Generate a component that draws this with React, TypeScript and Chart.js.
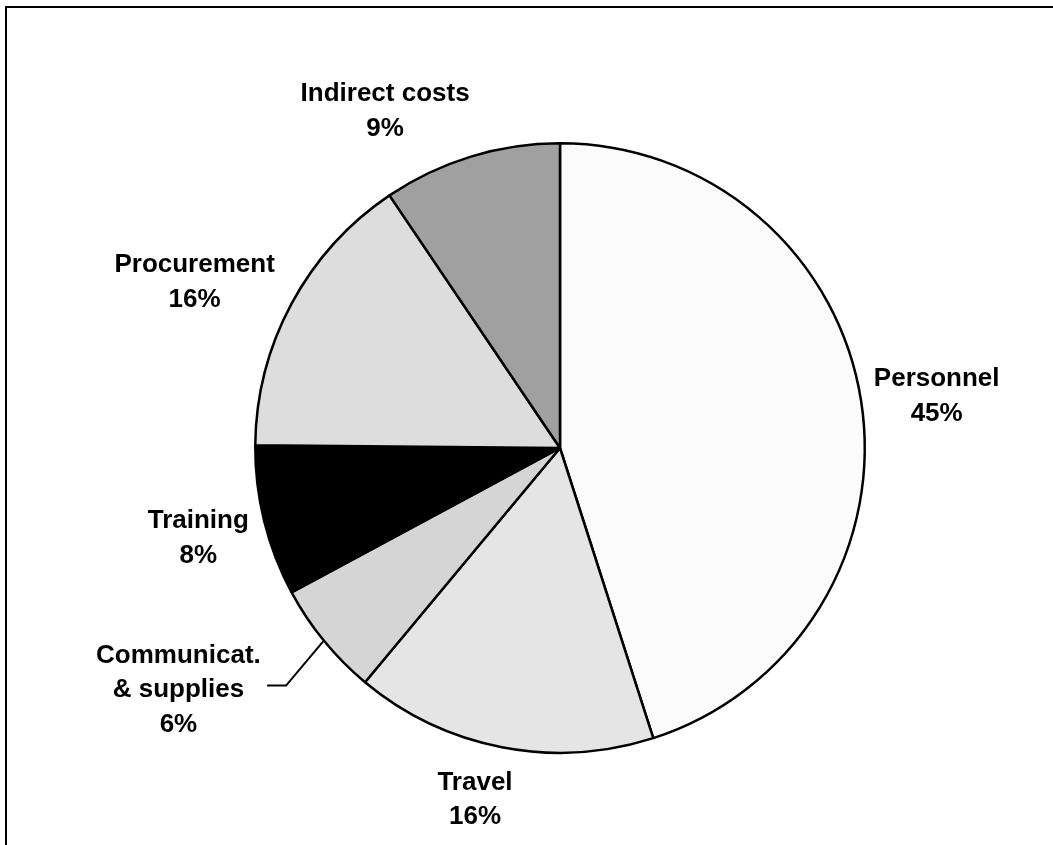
import React, { useEffect, useRef } from "react";
import { Chart, registerables } from "chart.js";

Chart.register(...registerables);

// Data (slice shares, clockwise from 12 o'clock)
const categories: string[] = ["Personnel", "Travel", "Communicat. & supplies", "Training", "Procurement", "Indirect costs"];
const shares: number[] = [45.05, 16.0, 6.1, 8.0, 15.4, 9.45];
const labelLines: string[][] = [
  ["Personnel", "45%"],
  ["Travel", "16%"],
  ["Communicat.", "& supplies", "6%"],
  ["Training", "8%"],
  ["Procurement", "16%"],
  ["Indirect costs", "9%"],
];

// Styling / layout (kept apart from data)
const sliceColors = ["#fbfbfb", "#e5e5e5", "#d5d5d5", "#000000", "#dddddd", "#a0a0a0"];
// label block centres, in units of the pie radius, relative to the pie centre
const labelOffsets: [number, number][] = [
  [1.232, -0.176],
  [-0.278, 1.144],
  [-1.248, 0.784],
  [-1.183, 0.288],
  [-1.195, -0.549],
  [-0.572, -1.108],
];
// leader line for the small slice: elbow and end, in radius units
const leaderIndex = 2;
const leaderElbow: [number, number] = [-0.896, 0.777];
const leaderEnd: [number, number] = [-0.958, 0.777];

const FONT_SIZE = 26;
const LINE_GAP = 34.5;

const labelPlugin = {
  id: "sliceLabels",
  afterDatasetsDraw(chart: any) {
    const meta = chart.getDatasetMeta(0);
    const ctx: CanvasRenderingContext2D = chart.ctx;
    ctx.save();
    ctx.fillStyle = "#000";
    ctx.font = `bold ${FONT_SIZE}px "Liberation Sans", Arial, sans-serif`;
    ctx.textAlign = "center";
    ctx.textBaseline = "alphabetic";
    meta.data.forEach((el: any, i: number) => {
      const p = el.getProps(["x", "y", "outerRadius", "startAngle", "endAngle"], true);
      const R = p.outerRadius + 1;
      const cx = p.x + labelOffsets[i][0] * R;
      const cy = p.y + labelOffsets[i][1] * R;
      const lines = labelLines[i];
      lines.forEach((t, j) => {
        const mid = cy + (j - (lines.length - 1) / 2) * LINE_GAP;
        ctx.fillText(t, cx, mid + 0.358 * FONT_SIZE);
      });
      if (i === leaderIndex) {
        const a = (p.startAngle + p.endAngle) / 2;
        const sx = p.x + Math.cos(a) * R;
        const sy = p.y + Math.sin(a) * R;
        ctx.beginPath();
        ctx.lineWidth = 2;
        ctx.strokeStyle = "#000";
        ctx.moveTo(sx, sy);
        ctx.lineTo(p.x + leaderElbow[0] * R, p.y + leaderElbow[1] * R);
        ctx.lineTo(p.x + leaderEnd[0] * R, p.y + leaderEnd[1] * R);
        ctx.stroke();
      }
    });
    ctx.restore();
  },
};

export default function App() {
  const ref = useRef<HTMLCanvasElement | null>(null);
  useEffect(() => {
    if (!ref.current) return;
    const chart = new Chart(ref.current, {
      type: "pie",
      data: {
        labels: categories,
        datasets: [
          {
            data: shares,
            backgroundColor: sliceColors,
            borderColor: "#000",
            borderWidth: 2.5,
          },
        ],
      },
      options: {
        responsive: false,
        animation: false,
        devicePixelRatio: 1,
        layout: { padding: { left: 254, right: 187, top: 142, bottom: 91 } },
        plugins: {
          legend: { display: false },
          tooltip: { enabled: false },
        },
      },
      plugins: [labelPlugin],
    });
    return () => chart.destroy();
  }, []);

  return (
    <div
      style={{
        position: "fixed",
        left: 0,
        top: 0,
        width: 1053,
        height: 845,
        overflow: "hidden",
        background: "#fff",
      }}
    >
      <canvas
        ref={ref}
        width={1053}
        height={845}
        style={{ position: "absolute", left: 0, top: 0, width: 1053, height: 845 }}
      />
      <div
        style={{
          position: "absolute",
          left: 5,
          top: 6,
          width: 1200,
          height: 1000,
          borderLeft: "2.5px solid #000",
          borderTop: "2.5px solid #000",
          pointerEvents: "none",
        }}
      />
    </div>
  );
}
